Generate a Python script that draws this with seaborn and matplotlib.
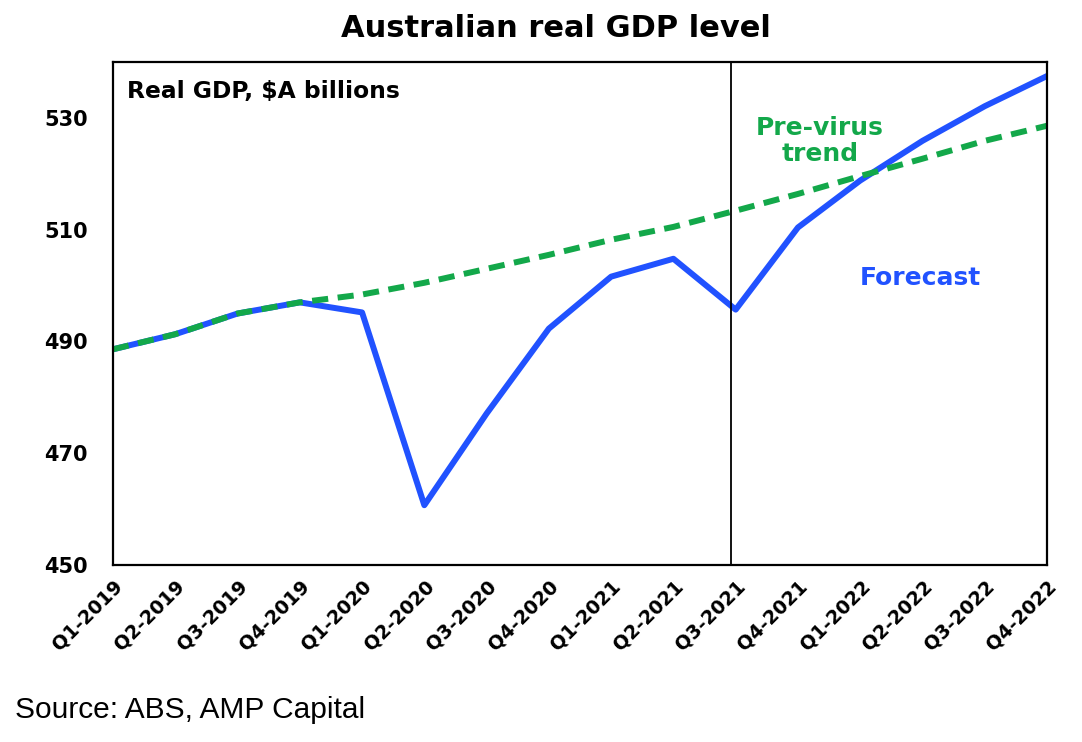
import numpy as np
import pandas as pd
import matplotlib
matplotlib.use("Agg")
import matplotlib.pyplot as plt
import seaborn as sns

quarters = ["Q1-2019", "Q2-2019", "Q3-2019", "Q4-2019",
            "Q1-2020", "Q2-2020", "Q3-2020", "Q4-2020",
            "Q1-2021", "Q2-2021", "Q3-2021", "Q4-2021",
            "Q1-2022", "Q2-2022", "Q3-2022", "Q4-2022"]
gdp = [488.6, 491.3, 495.0, 497.0, 495.2, 460.7, 477.1, 492.3,
       501.6, 504.8, 495.7, 510.4, 518.8, 525.9, 532.1, 537.5]
trend = [488.6, 491.3, 495.0, 497.0, 498.4, 500.5, 503.0, 505.5,
         508.2, 510.5, 513.4, 516.4, 519.6, 522.7, 525.9, 528.6]
yticks = [450, 470, 490, 510, 530]

df = pd.DataFrame({"pos": np.arange(len(quarters)), "quarter": quarters,
                   "gdp": gdp, "trend": trend})

sns.set_style("white")
plt.rcParams["font.family"] = ["DejaVu Sans"]
plt.rcParams["text.color"] = "black"
plt.rcParams["xtick.color"] = "black"
plt.rcParams["ytick.color"] = "black"

blue = "#2152ff"
green = "#13a84a"

fig = plt.figure(figsize=(10.82, 7.42), dpi=100)
ax = fig.add_axes([0.1044, 0.2385, 0.8633, 0.6779])

sns.lineplot(data=df, x="pos", y="gdp", color=blue, lw=4.3, ax=ax)
sns.lineplot(data=df, x="pos", y="trend", color=green, lw=4.3, ax=ax)
ax.lines[-1].set_dashes([2.7, 1.6])

# forecast divider
ax.axvline(9.93, color="black", lw=1.3)

ax.set_xlim(0, len(quarters) - 1)
ax.set_ylim(450, 540)
ax.set_yticks(yticks)
ax.set_yticklabels([str(v) for v in yticks], fontsize=15, fontweight="bold")
ax.set_xticks(df["pos"])
ax.set_xticklabels(quarters, rotation=45, ha="right", rotation_mode="anchor",
                   fontsize=13.8, fontweight="bold")
ax.tick_params(axis="x", direction="in", length=5, width=1.3, pad=8)
ax.tick_params(axis="y", length=0, pad=18)
ax.set_xlabel("")
ax.set_ylabel("")
for s in ax.spines.values():
    s.set_color("black")
    s.set_linewidth(1.6)

ax.text(0.015, 0.928, "Real GDP, $A billions", transform=ax.transAxes,
        fontsize=16.8, fontweight="bold", va="baseline", ha="left")
ax.text(11.35, 525.8, "Pre-virus\ntrend", color=green, fontsize=18,
        fontweight="bold", ha="center", va="center", linespacing=1.1)
ax.text(12.96, 501.3, "Forecast", color=blue, fontsize=18,
        fontweight="bold", ha="center", va="center")

fig.text(0.514, 0.962, "Australian real GDP level", fontsize=22,
         fontweight="bold", ha="center", va="center")
fig.text(0.014, 0.043, "Source: ABS, AMP Capital", fontsize=21.5,
         family=["Liberation Sans", "DejaVu Sans"], ha="left", va="center")

fig.savefig("out.png", dpi=100)
